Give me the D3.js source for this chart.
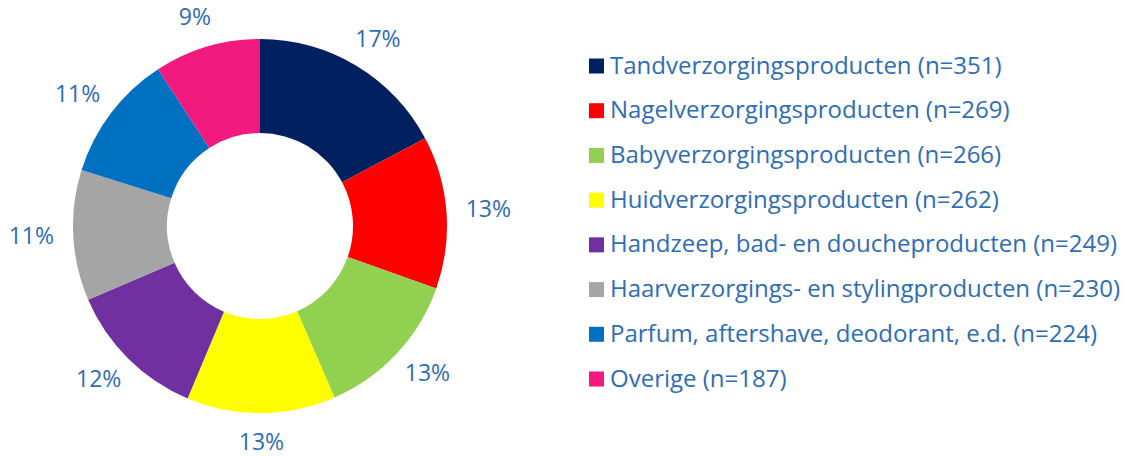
<!DOCTYPE html>
<html>
<head>
<meta charset="utf-8">
<script src="https://cdn.jsdelivr.net/npm/d3@7"></script>
<style>
  body { margin: 0; background: #fff; }
  text { font-family: "Open Sans", sans-serif; }
</style>
</head>
<body>
<div id="chart"></div>
<script>
const categories = [
  "Tandverzorgingsproducten",
  "Nagelverzorgingsproducten",
  "Babyverzorgingsproducten",
  "Huidverzorgingsproducten",
  "Handzeep, bad- en doucheproducten",
  "Haarverzorgings- en stylingproducten",
  "Parfum, aftershave, deodorant, e.d.",
  "Overige"
];
const counts = [351, 269, 266, 262, 249, 230, 224, 187];
const colors = ["#002060", "#FF0000", "#92D050", "#FFFF00", "#7030A0", "#A5A5A5", "#0070C0", "#F2197F"];

const width = 1124, height = 456;
const cx = 260, cy = 226;
const outerR = 187, innerR = 93;
const textColor = "#2E6DB4";

const svg = d3.select("#chart").append("svg")
  .attr("width", width)
  .attr("height", height);

const total = d3.sum(counts);
const pie = d3.pie().sort(null).value(d => d)(counts);
const arc = d3.arc().innerRadius(innerR).outerRadius(outerR);

const g = svg.append("g").attr("transform", `translate(${cx},${cy})`);

g.selectAll("path")
  .data(pie)
  .enter()
  .append("path")
  .attr("d", arc)
  .attr("fill", (d, i) => colors[i]);

// percentage labels outside the ring
const gap = 19, halfW = 23, halfH = 11;
g.selectAll("text.pct")
  .data(pie)
  .enter()
  .append("text")
  .attr("class", "pct")
  .attr("x", d => {
    const a = (d.startAngle + d.endAngle) / 2;
    return Math.sin(a) * (outerR + gap + halfW);
  })
  .attr("y", d => {
    const a = (d.startAngle + d.endAngle) / 2;
    return -Math.cos(a) * (outerR + gap + halfH) - 2;
  })
  .attr("text-anchor", "middle")
  .attr("dominant-baseline", "central")
  .attr("font-size", 23)
  .attr("fill", textColor)
  .text(d => Math.round(d.value / total * 100) + "%");

// legend
const legendY = d3.scalePoint()
  .domain(categories)
  .range([66, 379]);

const legend = svg.append("g");
const items = legend.selectAll("g")
  .data(categories)
  .enter()
  .append("g")
  .attr("transform", d => `translate(589,${legendY(d)})`);

items.append("rect")
  .attr("x", 0)
  .attr("y", -7.5)
  .attr("width", 15)
  .attr("height", 15)
  .attr("fill", (d, i) => colors[i]);

items.append("text")
  .attr("x", 21)
  .attr("y", -2)
  .attr("dominant-baseline", "central")
  .attr("font-size", 24)
  .attr("fill", textColor)
  .text((d, i) => `${d} (n=${counts[i]})`);
</script>
</body>
</html>
